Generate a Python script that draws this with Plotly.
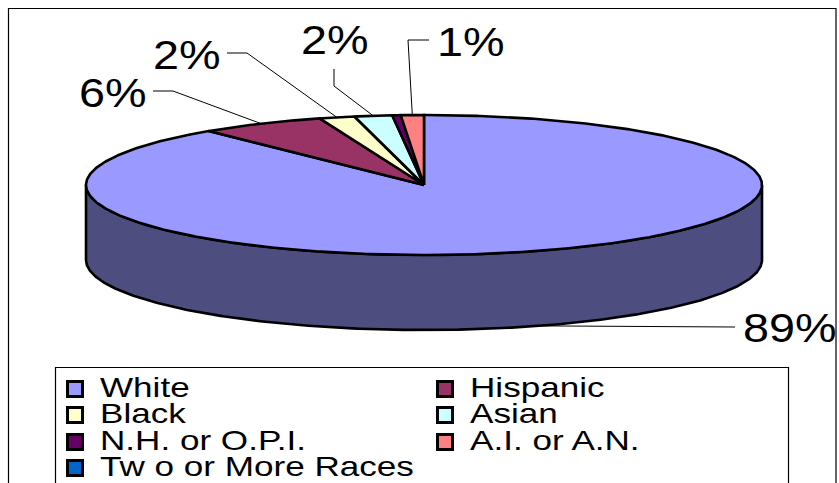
import numpy as np
import plotly.graph_objects as go

# Enrolment share by group, in percent
categories = ["White", "Hispanic", "Black", "Asian", "N.H. or O.P.I.", "A.I. or A.N.", "Tw o or More Races"]
shares = [89.0, 6.0, 1.7, 1.8, 0.4, 1.1, 0.0]
top_colors = ["#9999FF", "#993366", "#FFFFCC", "#CCFFFF", "#660066", "#FF8080", "#0066CC"]
side_colors = ["#4D4D80", "#4D1A33", "#808066", "#668080", "#330033", "#804040", "#003366"]
# Slices whose percentage is written beside the pie
labelled = ["White", "Hispanic", "Black", "Asian", "A.I. or A.N."]

# Pie geometry on a pixel-like plotting space
CX, CY, RX, RY, DEPTH = 424.0, 185.0, 338.0, 70.0, 75.0
INK = "#000000"
EDGE = 2.6


def rim(a0, a1, drop=0.0, step=0.5):
    """Points on the ellipse between two clockwise angles, in degrees from 12 o'clock."""
    n = max(2, int(abs(a1 - a0) / step) + 1)
    t = np.radians(np.linspace(a0, a1, n))
    return CX + RX * np.sin(t), CY - RY * np.cos(t) + drop


fig = go.Figure()


def poly(x, y, fill, width=EDGE):
    fig.add_trace(go.Scatter(x=x, y=y, mode="lines", fill="toself", fillcolor=fill,
                             line=dict(color=INK, width=width, shape="linear"),
                             hoverinfo="skip", showlegend=False))


def path(x, y, color="#000000", width=1.0):
    fig.add_trace(go.Scatter(x=x, y=y, mode="lines", line=dict(color=color, width=width),
                             hoverinfo="skip", showlegend=False))


def label(x, y, text, size):
    fig.add_trace(go.Scatter(x=[x], y=[y], mode="text", text=[text], textposition="middle right",
                             textfont=dict(family="Liberation Sans", size=size, color="#000000"),
                             hoverinfo="skip", showlegend=False))


# Slice angles follow directly from the shares
edges = np.concatenate([[0.0], np.cumsum(shares)]) * 3.6

# Outer wall: only the part of each slice facing the viewer
for i, cat in enumerate(categories):
    lo, hi = max(edges[i], 90.0), min(edges[i + 1], 270.0)
    if hi > lo:
        xt, yt = rim(lo, hi)
        xb, yb = rim(lo, hi, DEPTH)
        poly(np.r_[xt, xb[::-1], xt[0]], np.r_[yt, yb[::-1], yt[0]], side_colors[i])

# Top faces
for i, cat in enumerate(categories):
    if shares[i] <= 0:
        continue
    xt, yt = rim(edges[i], edges[i + 1])
    poly(np.r_[CX, xt, CX], np.r_[CY, yt, CY], top_colors[i])

# Leader lines and percentage labels: elbow and text placement per slice
callouts = {
    "White": ((735, 327), None, (743, 332)),
    "Hispanic": ((153, 91), (173, 91), (79, 97)),
    "Black": ((227, 53), (247, 53), (153, 59)),
    "Asian": ((334, 69), (334, 86), (301, 44)),
    "A.I. or A.N.": ((429, 40), (408, 40), (437, 46)),
}
for name in labelled:
    i = categories.index(name)
    mid = (edges[i] + edges[i + 1]) / 2
    drop = DEPTH if 90 < mid < 270 else 0.0
    ex, ey = rim(mid, mid, drop)
    start, elbow, text_at = callouts[name]
    xs = [start[0]] + ([elbow[0]] if elbow else []) + [ex[0]]
    ys = [start[1]] + ([elbow[1]] if elbow else []) + [ey[0]]
    path(xs, ys, "#000000", 1.0)
    label(text_at[0], text_at[1], f"{round(shares[i])}%", 41)

# Legend, two columns filled row by row
LEG_COLS = (75, 445)
LEG_ROWS = (389, 415, 442, 468)
for k, cat in enumerate(categories):
    col, row = LEG_COLS[k % 2], LEG_ROWS[k // 2]
    fig.add_trace(go.Scatter(x=[col], y=[row], mode="markers",
                             marker=dict(symbol="square", size=15, color=top_colors[k],
                                         line=dict(color=INK, width=3)),
                             hoverinfo="skip", showlegend=False))
    label(col + 25, row + 1, cat, 27)

shapes = [
    dict(type="rect", x0=8.5, y0=8.5, x1=836, y1=500, line=dict(color="#000000", width=1.2)),
    dict(type="rect", x0=55.5, y0=367.5, x1=788.5, y1=500, line=dict(color="#000000", width=1.2)),
]
fig.update_layout(
    width=839, height=483, margin=dict(l=0, r=0, t=0, b=0),
    paper_bgcolor="#FFFFFF", plot_bgcolor="#FFFFFF", shapes=shapes, showlegend=False,
    xaxis=dict(range=[0, 839], visible=False, fixedrange=True),
    yaxis=dict(range=[483, 0], visible=False, fixedrange=True),
)

# The labels are set in a wide, extended cut of the sans face
widen = """
document.querySelectorAll('.textpoint text').forEach(function (t) {
  var x = parseFloat(t.getAttribute('x'));
  var s = parseFloat(t.style.fontSize) > 30 ? 1.14 : 1.3;
  t.setAttribute('transform', 'translate(' + x + ' 0) scale(' + s + ' 1) translate(' + (-x) + ' 0)');
});
"""
fig.write_html("out.html", post_script=widen, config=dict(displayModeBar=False))
